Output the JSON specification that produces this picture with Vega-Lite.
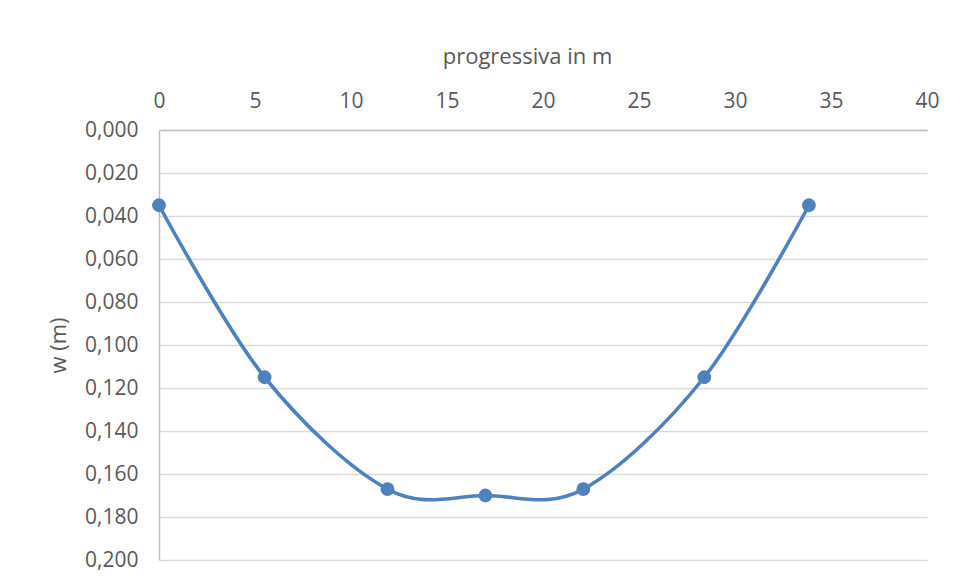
{
  "$schema": "https://vega.github.io/schema/vega-lite/v6.json",
  "width": 768,
  "height": 430,
  "autosize": {"type": "none"},
  "padding": {"left": 159, "top": 130, "right": 28, "bottom": 20},
  "background": "white",
  "config": {
    "view": {"stroke": null},
    "font": "Open Sans",
    "axis": {
      "labelFont": "Open Sans",
      "titleFont": "Open Sans",
      "labelColor": "#595959",
      "titleColor": "#595959",
      "labelFontSize": 21,
      "titleFontSize": 22,
      "titleFontWeight": "normal",
      "domainColor": "#bfbfbf",
      "domainWidth": 1.5,
      "gridColor": "#d9d9d9",
      "gridWidth": 1.5,
      "ticks": false
    }
  },
  "data": {
    "values": [
      {"x": 0, "w": 0.035},
      {"x": 5.5, "w": 0.115},
      {"x": 11.9, "w": 0.167},
      {"x": 17.0, "w": 0.170},
      {"x": 22.1, "w": 0.167},
      {"x": 28.4, "w": 0.115},
      {"x": 33.85, "w": 0.035}
    ]
  },
  "encoding": {
    "x": {
      "field": "x",
      "type": "quantitative",
      "scale": {"domain": [0, 40], "nice": false},
      "axis": {
        "orient": "top",
        "title": "progressiva in m",
        "values": [0, 5, 10, 15, 20, 25, 30, 35, 40],
        "grid": false,
        "labelPadding": 19,
        "titlePadding": 22,
        "titleX": 368,
        "titleAnchor": "middle",
        "labelFlush": false
      }
    },
    "y": {
      "field": "w",
      "type": "quantitative",
      "scale": {"domain": [0, 0.2], "reverse": true, "nice": false},
      "axis": {
        "title": "w (m)",
        "values": [0, 0.02, 0.04, 0.06, 0.08, 0.1, 0.12, 0.14, 0.16, 0.18, 0.2],
        "labelExpr": "replace(format(datum.value, '.3f'), '.', ',')",
        "grid": true,
        "labelPadding": 21,
        "titlePadding": 14,
        "labelFlush": false
      }
    }
  },
  "layer": [
    {
      "mark": {"type": "line", "interpolate": "cardinal", "color": "#4F81BD", "strokeWidth": 3.6}
    },
    {
      "mark": {"type": "point", "filled": true, "shape": "circle", "size": 190, "color": "#4F81BD", "opacity": 1}
    }
  ]
}
